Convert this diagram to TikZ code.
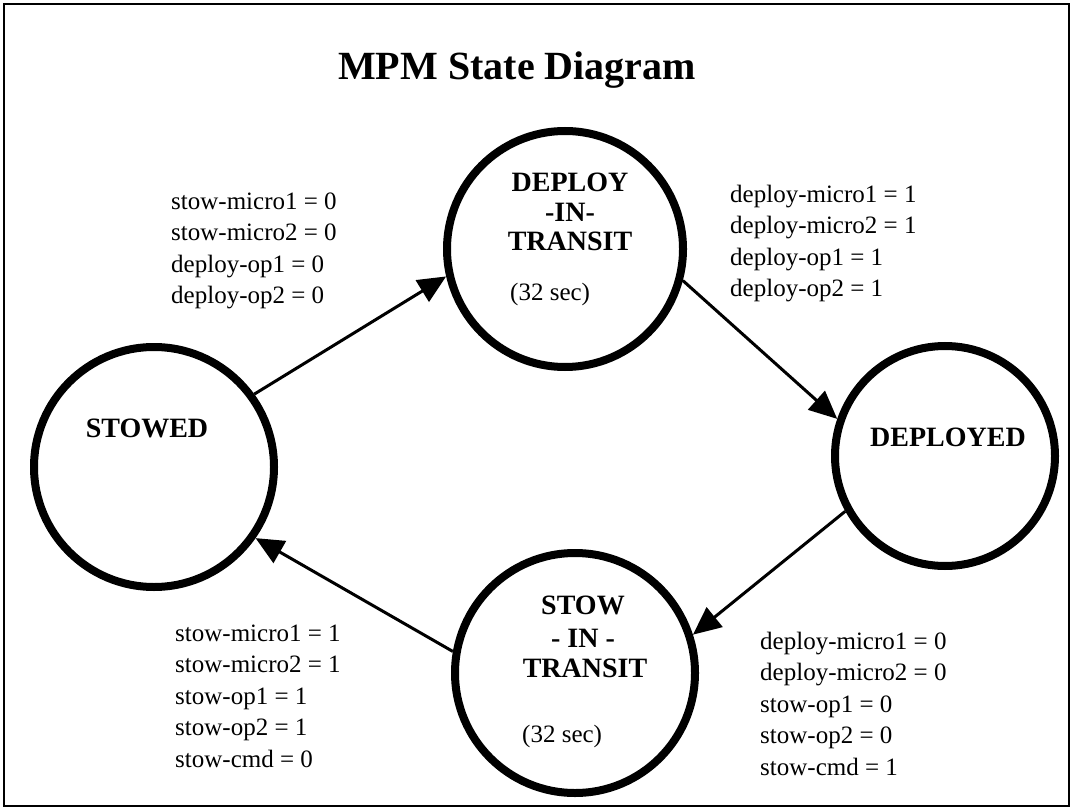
\documentclass[tikz,border=0pt]{standalone}
\usepackage{fontspec}
\setmainfont{Liberation Serif}
\usetikzlibrary{arrows.meta}
\begin{document}
\begin{tikzpicture}[x=1pt,y=-1pt,
  state/.style={circle,draw,line width=8pt,inner sep=0pt},
  statename/.style={font=\fontsize{28}{30}\selectfont\bfseries,anchor=base,inner sep=0pt},
  timing/.style={font=\fontsize{25}{30}\selectfont,anchor=base west,inner sep=0pt},
  note/.style={font=\fontsize{25}{31.5}\selectfont,align=left,anchor=north west,inner sep=0pt},
  trans/.style={line width=3pt,-{Triangle[length=28pt,width=25pt]}},
]
\useasboundingbox (0,0) rectangle (1073,810);
\draw[line width=2.5pt] (4,4) rectangle (1069,806);

% title
\node[font=\fontsize{40}{48}\selectfont\bfseries,anchor=base,inner sep=0pt] (title) at (517,80) {MPM State Diagram};

% states
\node[state,minimum size=240pt] (stowed)   at (154,467) {};
\node[state,minimum size=236pt] (dit)      at (565,249) {};
\node[state,minimum size=220pt] (deployed) at (945,456) {};
\node[state,minimum size=240pt] (sit)      at (575,673) {};

\node[statename] (stowedname) at (147,437) {STOWED};
\node[statename] (deployedname) at (948,446) {DEPLOYED};

\node[statename] (dit1) at (570,192) {DEPLOY};
\node[statename] (dit2) at (570,222) {-IN-};
\node[statename] (dit3) at (570,251) {TRANSIT};
\node[timing] (dittime) at (510,300) {(32 sec)};

\node[statename] (sit1) at (583,614) {STOW};
\node[statename] (sit2) at (583,647) {- IN -};
\node[statename] (sit3) at (585,677) {TRANSIT};
\node[timing] (sittime) at (522,742) {(32 sec)};

% transitions
\draw[trans] (stowed.36.8) -- (dit.193.8);
\draw[trans] (dit.-15.1) -- (deployed.161);
\draw[trans] (deployed.209.9) -- (sit.18.9);
\draw[trans] (sit.170.8) -- (stowed.-35.1);

% transition conditions
\node[note] (c1) at (171,192.5) {stow-micro1 = 0\\stow-micro2 = 0\\deploy-op1 = 0\\deploy-op2 = 0};
\node[note] (c2) at (730,184.5) {deploy-micro1 = 1\\deploy-micro2 = 1\\deploy-op1 = 1\\deploy-op2 = 1};
\node[note] (c3) at (760,631.5) {deploy-micro1 = 0\\deploy-micro2 = 0\\stow-op1 = 0\\stow-op2 = 0\\stow-cmd = 1};
\node[note] (c4) at (175,624.5) {stow-micro1 = 1\\stow-micro2 = 1\\stow-op1 = 1\\stow-op2 = 1\\stow-cmd = 0};
\end{tikzpicture}
\end{document}
